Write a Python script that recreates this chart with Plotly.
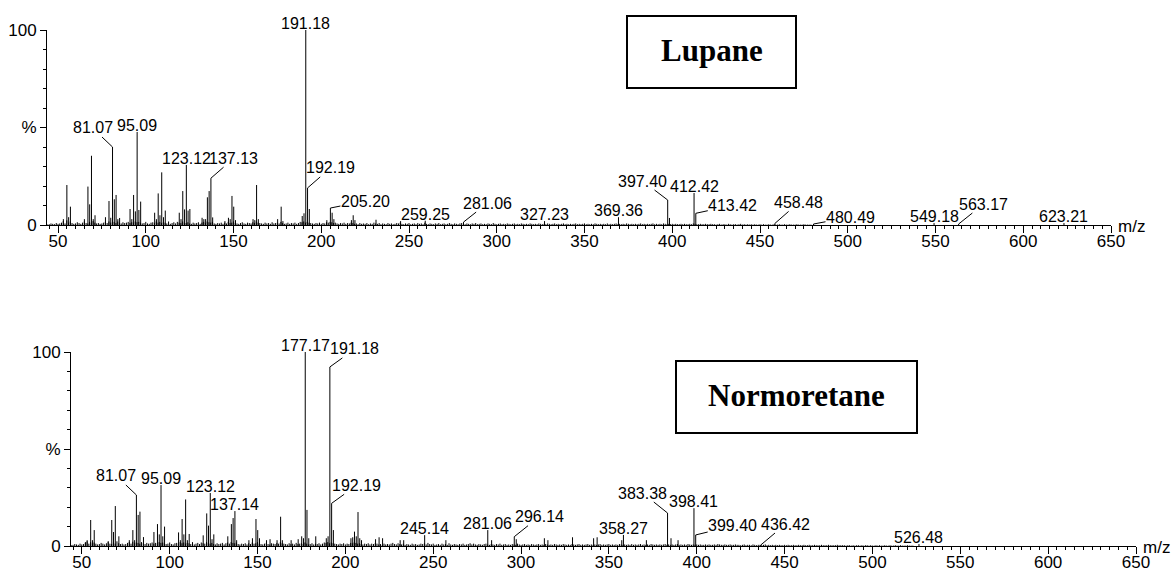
import plotly.graph_objects as go

# ---------------- DATA ----------------
# Lupane spectrum: main peaks (m/z, relative intensity %)
lupane_mz = [53.05, 55.05, 56.06, 57.07, 65.04, 67.05, 68.06, 69.07, 70.07, 71.09,
             77.04, 79.05, 80.06, 81.07, 82.08, 83.09, 84.09, 85.10, 91.05, 92.06,
             93.07, 94.08, 95.09, 96.09, 97.10, 105.07, 106.08, 107.09, 108.09, 109.10,
             110.10, 111.12, 119.09, 120.09, 121.10, 122.11, 123.12, 124.12, 125.13, 132.10,
             133.10, 134.11, 135.12, 136.12, 137.13, 138.13, 145.10, 147.12, 148.12, 149.13,
             150.13, 151.14, 161.13, 162.14, 163.15, 164.15, 175.15, 177.16, 178.16, 189.16,
             190.17, 191.18, 192.19, 193.19, 203.18, 205.20, 206.20, 207.20, 217.19, 218.20,
             219.20, 231.20, 245.21, 259.25, 281.06, 327.23, 369.36, 397.40, 398.41, 412.42,
             413.42, 458.48, 480.49, 549.18, 563.17, 623.21]
lupane_int = [3, 20.5, 4, 9.4, 3, 19.7, 10.6, 35.5, 3, 5,
              4, 12.3, 3.7, 40, 13.2, 15.4, 3, 3.6, 8.2, 3,
              15.4, 7, 47.7, 7.7, 12, 6.3, 3, 16.2, 5, 27,
              4, 7.4, 6.3, 3, 17.4, 8, 30.8, 7.4, 8.2, 3.7,
              3, 3, 14.2, 17.4, 24, 3.9, 2, 3.7, 3, 14.9,
              9.4, 2.5, 3, 2.5, 20.5, 3, 3, 9.4, 2, 4.6,
              6, 100, 19, 8.2, 2.5, 8.7, 6.3, 3, 2.5, 5,
              2.5, 2.7, 2, 2.2, 1.5, 2, 4, 12.8, 3.6, 16.4,
              6, 0.8, 0.5, 1, 0.5, 1]
# Lupane baseline noise, one value per unit mass from m/z 44 (units of 0.2 %)
lupane_noise = [1, 2, 4, 3, 2, 5, 3, 4, 6, 10, 4, 12, 6, 9, 5, 3, 4, 7, 5, 3,
                6, 9, 5, 4, 8, 5, 10, 6, 4, 5, 3, 4, 6, 8, 5, 9, 6, 7, 8, 5,
                9, 6, 4, 7, 5, 6, 8, 5, 7, 6, 9, 7, 8, 6, 4, 5, 8, 4, 3, 6,
                7, 5, 9, 6, 8, 5, 7, 6, 4, 9, 3, 5, 7, 4, 8, 6, 5, 9, 6, 5,
                7, 4, 3, 6, 4, 5, 7, 3, 6, 8, 5, 9, 7, 6, 8, 4, 3, 5, 4, 6,
                3, 6, 4, 8, 5, 6, 9, 5, 4, 3, 5, 7, 4, 3, 6, 5, 4, 7, 5, 9,
                6, 5, 4, 3, 6, 4, 5, 3, 7, 4, 5, 6, 4, 8, 5, 3, 4, 6, 3, 5,
                4, 6, 3, 5, 8, 7, 9, 6, 8, 6, 5, 4, 3, 5, 4, 6, 3, 5, 4, 7,
                6, 8, 7, 5, 6, 4, 3, 5, 4, 6, 3, 5, 4, 6, 5, 3, 4, 2, 5, 3,
                4, 3, 5, 2, 4, 3, 6, 4, 3, 5, 2, 4, 3, 2, 5, 3, 4, 2, 3, 5,
                4, 6, 3, 2, 4, 3, 5, 2, 3, 4, 2, 5, 3, 4, 2, 6, 3, 2, 4, 3,
                2, 4, 3, 5, 2, 3, 4, 2, 3, 5, 3, 2, 4, 3, 2, 4, 5, 3, 2, 4,
                3, 2, 4, 3, 5, 2, 3, 4, 2, 3, 2, 4, 3, 2, 5, 3, 2, 3, 4, 2,
                3, 2, 4, 3, 2, 3, 4, 2, 3, 2, 4, 3, 2, 3, 2, 4, 3, 2, 3, 2,
                4, 3, 2, 3, 2, 4, 3, 2, 3, 4, 2, 3, 2, 3, 4, 2, 3, 2, 3, 2,
                3, 4, 2, 3, 2, 3, 4, 2, 3, 2, 3, 2, 4, 3, 2, 3, 2, 3, 2, 4,
                2, 3, 2, 3, 4, 2, 3, 2, 3, 2, 4, 3, 2, 3, 2, 3, 2, 3, 4, 2,
                3, 2, 3, 2, 3, 4, 2, 3, 2, 3, 2, 4, 3, 2, 3, 2, 3, 2, 3, 2,
                2, 3, 2, 3, 2, 2, 3, 2, 4, 3, 2, 2, 3, 2, 2, 3, 2, 2, 3, 2,
                2, 1, 2, 3, 1, 2, 2, 1, 3, 2, 1, 2, 2, 1, 2, 3, 1, 2, 1, 2,
                1, 2, 1, 2, 1, 1, 2, 1, 2, 1, 1, 2, 1, 1, 2, 1, 1, 2, 1, 1,
                2, 1, 1, 2, 1, 1, 1, 2, 1, 1, 1, 2, 1, 1, 1, 1]
lupane_labels = [81.07, 95.09, 123.12, 137.13, 191.18, 192.19, 205.20, 259.25, 281.06,
                 327.23, 369.36, 397.40, 412.42, 413.42, 458.48, 480.49, 549.18, 563.17, 623.21]

# Normoretane spectrum
normo_mz = [52.05, 53.05, 55.05, 56.06, 57.07, 65.04, 67.05, 68.06, 69.07, 71.09,
            77.04, 79.05, 80.06, 81.07, 82.08, 83.09, 85.10, 91.05, 93.07, 94.08,
            95.09, 96.09, 97.10, 105.07, 106.08, 107.09, 108.09, 109.10, 110.10, 111.12,
            119.09, 121.10, 122.11, 123.12, 124.12, 125.13, 133.10, 135.12, 136.12, 137.14,
            138.13, 145.10, 147.12, 149.13, 150.13, 151.14, 155.13, 157.14, 161.13, 163.15,
            164.15, 169.14, 173.15, 175.15, 176.16, 177.17, 178.16, 179.17, 183.15, 189.16,
            190.17, 191.18, 192.19, 193.19, 203.18, 204.19, 205.20, 206.20, 207.20, 208.20,
            209.20, 217.19, 219.20, 221.19, 231.20, 233.21, 245.14, 257.22, 281.06, 283.24,
            296.14, 297.26, 313.27, 315.28, 329.29, 341.30, 343.30, 357.32, 358.27, 371.33,
            383.38, 385.35, 389.36, 398.41, 399.40, 436.42, 526.48]
normo_int = [2, 3, 13.4, 3, 8.2, 2.5, 13.4, 7.2, 20.6, 5,
             3, 8.2, 3, 26.3, 16, 17.7, 4.6, 7.2, 11.3, 6,
             31.4, 5, 10, 7, 3, 13.9, 6, 24, 3, 6.2,
             5.5, 16.8, 10.5, 27.3, 3.5, 6, 5, 11.3, 14.4, 18,
             3, 3, 4, 13.9, 8.2, 4, 3, 3.5, 3, 15.1,
             3, 3, 3.5, 5, 4, 100, 18.6, 4, 5, 4,
             5, 92.3, 22, 8.2, 4, 4.5, 7.4, 5, 17.5, 4,
             3, 3.5, 4.5, 4, 3, 3, 5.6, 3, 8.2, 3,
             4.8, 3.5, 4, 3, 4.5, 4, 4.5, 3, 5.7, 3,
             17, 4, 3, 19.5, 5.7, 0.5, 1]
# Normoretane baseline noise, one value per unit mass from m/z 44 (units of 0.2 %)
normo_noise = [2, 3, 5, 4, 3, 6, 4, 5, 8, 12, 6, 10, 7, 9, 6, 4, 5, 8, 6, 4,
               7, 10, 6, 5, 9, 6, 12, 7, 5, 6, 4, 5, 8, 10, 6, 11, 7, 9, 8, 6,
               10, 7, 5, 8, 6, 7, 9, 6, 8, 7, 10, 8, 9, 7, 5, 6, 9, 5, 4, 7,
               8, 6, 10, 7, 9, 6, 8, 7, 5, 10, 4, 6, 8, 5, 9, 7, 6, 10, 7, 6,
               8, 5, 4, 7, 5, 6, 8, 4, 7, 9, 6, 10, 8, 7, 9, 5, 4, 6, 5, 7,
               4, 7, 5, 9, 6, 7, 10, 6, 5, 4, 6, 8, 5, 4, 7, 6, 5, 8, 6, 10,
               7, 6, 5, 4, 7, 5, 6, 4, 8, 5, 6, 7, 5, 9, 6, 4, 5, 7, 4, 6,
               5, 7, 4, 6, 9, 8, 10, 7, 9, 7, 6, 5, 4, 6, 5, 7, 4, 6, 5, 8,
               7, 9, 8, 6, 7, 5, 4, 6, 5, 7, 4, 6, 5, 7, 6, 4, 5, 3, 6, 4,
               5, 4, 6, 8, 5, 4, 7, 5, 4, 6, 3, 5, 4, 3, 6, 4, 5, 3, 4, 6,
               5, 7, 4, 8, 5, 4, 6, 3, 4, 5, 3, 6, 4, 5, 3, 7, 4, 3, 5, 4,
               3, 5, 4, 6, 3, 4, 5, 7, 4, 6, 4, 3, 5, 4, 3, 5, 6, 4, 3, 5,
               4, 3, 5, 4, 6, 3, 4, 5, 3, 4, 3, 5, 4, 3, 6, 4, 3, 4, 5, 3,
               4, 3, 5, 4, 3, 4, 5, 3, 4, 3, 5, 4, 3, 4, 3, 5, 4, 3, 4, 3,
               5, 4, 3, 4, 3, 5, 4, 3, 4, 5, 3, 4, 3, 4, 5, 3, 4, 3, 4, 3,
               4, 5, 3, 4, 3, 4, 5, 3, 4, 3, 4, 3, 5, 4, 3, 4, 3, 4, 3, 5,
               3, 4, 3, 4, 5, 3, 4, 3, 4, 3, 5, 4, 3, 4, 3, 4, 3, 4, 5, 3,
               4, 3, 4, 3, 4, 5, 3, 4, 3, 4, 3, 5, 4, 3, 4, 3, 4, 3, 4, 3,
               3, 4, 3, 4, 3, 3, 4, 3, 5, 4, 3, 3, 4, 3, 3, 4, 3, 3, 4, 3,
               3, 2, 3, 4, 2, 3, 3, 2, 4, 3, 2, 3, 3, 2, 3, 4, 2, 3, 2, 3,
               2, 3, 2, 3, 2, 2, 3, 2, 3, 2, 2, 3, 2, 2, 3, 2, 2, 3, 2, 2,
               3, 2, 2, 3, 2, 2, 2, 3, 2, 2, 2, 3, 2, 2, 2, 2, 3, 2, 2, 2,
               2, 1, 2, 2, 1, 2, 1, 2, 2, 1, 2, 1, 2, 2, 1, 2, 1, 1, 2, 1,
               2, 1, 1, 2, 1, 1, 2, 1, 1, 2, 1, 1, 2, 1, 1, 1, 2, 1, 1, 1]
normo_labels = [81.07, 95.09, 123.12, 137.14, 177.17, 191.18, 192.19, 245.14, 281.06,
                296.14, 358.27, 383.38, 398.41, 399.40, 436.42, 526.48]

noise_start = 44
noise_unit = 0.2  # % per noise count

# ---------------- STYLE / LAYOUT ----------------
W, H = 1174, 573
SANS = "Arial, Liberation Sans, sans-serif"
SERIF = "Times New Roman, Liberation Serif, serif"

# leader-line offsets (pixels) for labels that are not centred over their peak
lupane_offsets = {81.07: (-20, -19), 137.13: (23, -20), 192.19: (23, -20), 205.20: (35, -7),
                  281.06: (24, -19), 397.40: (-25, -19), 413.42: (37, -8), 458.48: (24, -21),
                  480.49: (37, -7), 563.17: (25, -20)}
normo_offsets = {81.07: (-20, -19), 191.18: (25, -18), 192.19: (25, -18), 296.14: (25, -20),
                 383.38: (-25, -20), 399.40: (37, -9), 436.42: (25, -21)}


def px(xp):
    return xp / W


def py(yp):
    return 1 - yp / H


def sticks(mz, inten):
    xs, ys = [], []
    for m, v in zip(mz, inten):
        xs += [m, m, None]
        ys += [0, v, None]
    return xs, ys


fig = go.Figure()

panels = [
    dict(mz=lupane_mz, inten=lupane_int, noise=lupane_noise, labels=lupane_labels,
         offsets=lupane_offsets, xa="x", ya="y", xdom=(47, 1111), ydom=(225, 30),
         x0=43.73, name="Lupane", box=(627, 16, 796, 88), text_y=50, mz_pos=(1116, 226)),
    dict(mz=normo_mz, inten=normo_int, noise=normo_noise, labels=normo_labels,
         offsets=normo_offsets, xa="x2", ya="y2", xdom=(71, 1136), ydom=(546, 352),
         x0=43.85, name="Normoretane", box=(676, 361, 917, 433), text_y=395, mz_pos=(1141, 547)),
]

annotations = []
shapes = []
for i, p in enumerate(panels):
    nm = [noise_start + k for k in range(len(p["noise"]))]
    nv = [v * noise_unit for v in p["noise"]]
    xs, ys = sticks(nm, nv)
    fig.add_trace(go.Scatter(x=xs, y=ys, mode="lines", line=dict(color="black", width=1),
                             xaxis=p["xa"], yaxis=p["ya"], hoverinfo="skip", showlegend=False))
    xs, ys = sticks(p["mz"], p["inten"])
    fig.add_trace(go.Scatter(x=xs, y=ys, mode="lines", line=dict(color="black", width=1),
                             xaxis=p["xa"], yaxis=p["ya"], hoverinfo="skip", showlegend=False))

    heights = dict(zip(p["mz"], p["inten"]))
    for lab in p["labels"]:
        h = heights[lab]
        txt = f"{lab:.2f}"
        if lab in p["offsets"]:
            dx, dy = p["offsets"][lab]
            annotations.append(dict(x=lab, y=h, xref=p["xa"], yref=p["ya"], text=txt,
                                    showarrow=True, arrowhead=0, arrowwidth=1, arrowcolor="black",
                                    ax=dx, ay=dy, standoff=0, startstandoff=0, borderpad=0,
                                    font=dict(family=SANS, size=16, color="black")))
        else:
            annotations.append(dict(x=lab, y=h, xref=p["xa"], yref=p["ya"], text=txt,
                                    showarrow=False, yanchor="bottom", xanchor="center", yshift=-3,
                                    borderpad=0, font=dict(family=SANS, size=16, color="black")))

    bx0, by0, bx1, by1 = p["box"]
    shapes.append(dict(type="rect", xref="paper", yref="paper", x0=px(bx0), x1=px(bx1),
                       y0=py(by1), y1=py(by0), line=dict(color="black", width=2),
                       fillcolor="rgba(0,0,0,0)"))
    annotations.append(dict(x=px((bx0 + bx1) / 2), y=py(p["text_y"]), xref="paper", yref="paper",
                            text="<b>" + p["name"] + "</b>", showarrow=False,
                            xanchor="center", yanchor="middle",
                            font=dict(family=SERIF, size=31, color="black")))
    annotations.append(dict(x=px(p["mz_pos"][0]), y=py(p["mz_pos"][1]), xref="paper", yref="paper",
                            text="m/z", showarrow=False, xanchor="left", yanchor="middle",
                            font=dict(family=SANS, size=17, color="black")))

axis_common = dict(showgrid=False, zeroline=False, showline=True, linecolor="black", linewidth=1,
                   ticks="outside", tickcolor="black", tickwidth=1, automargin=False,
                   tickfont=dict(family=SANS, size=17, color="black"))

layout = dict(width=W, height=H, autosize=False,
              margin=dict(l=0, r=0, t=0, b=0, pad=0, autoexpand=False),
              paper_bgcolor="white", plot_bgcolor="white", showlegend=False,
              annotations=annotations, shapes=shapes)

for i, p in enumerate(panels):
    suffix = "" if i == 0 else "2"
    xk, yk = "xaxis" + suffix, "yaxis" + suffix
    layout[xk] = dict(axis_common, domain=[px(p["xdom"][0]), px(p["xdom"][1])],
                      range=[p["x0"], 650], anchor=p["ya"], tickmode="linear",
                      tick0=0, dtick=50, ticklen=7, ticklabelstandoff=-6,
                      minor=dict(tickmode="linear", tick0=0, dtick=5, ticklen=3,
                                 tickcolor="black", tickwidth=1, ticks="outside"))
    layout[yk] = dict(axis_common, domain=[py(p["ydom"][0]), py(p["ydom"][1])],
                      range=[0, 100], anchor=p["xa"], tickmode="linear",
                      tick0=0, dtick=50, labelalias={"50": "%"}, ticklen=6,
                      minor=dict(tickmode="linear", tick0=0, dtick=10, ticklen=3,
                                 tickcolor="black", tickwidth=1, ticks="outside"))

fig.update_layout(**layout)
fig.write_html("out.html", config={"displayModeBar": False, "responsive": False},
               post_script="document.body.style.margin='0px';document.body.style.overflow='hidden';")
